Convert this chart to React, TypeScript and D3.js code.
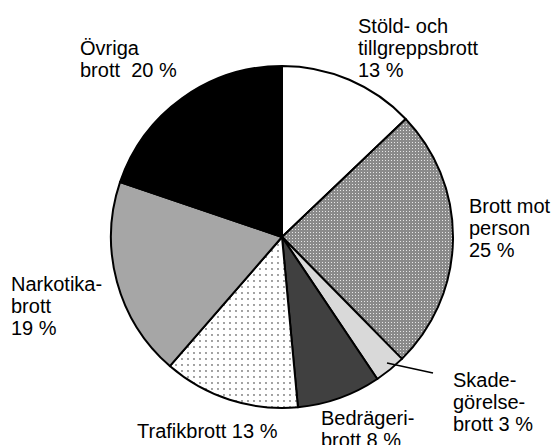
import React, { useEffect, useRef } from "react";
import * as d3 from "d3";

// crime categories, clockwise from 12 o'clock
const categories = [
  "Stöld- och tillgreppsbrott",
  "Brott mot person",
  "Skadegörelsebrott",
  "Bedrägeribrott",
  "Trafikbrott",
  "Narkotikabrott",
  "Övriga brott",
];
const shares = [13, 25, 3, 8, 13, 19, 20];
const labelLines = [
  ["Stöld- och", "tillgreppsbrott", "13 %"],
  ["Brott mot", "person", "25 %"],
  ["Skade-", "görelse-", "brott 3 %"],
  ["Bedrägeri-", "brott 8 %"],
  ["Trafikbrott 13 %"],
  ["Narkotika-", "brott", "19 %"],
  ["Övriga", "brott  20 %"],
];

// label anchor (left x, first baseline y)
const labelPos = [
  [358, 33],
  [469, 213],
  [453, 387],
  [321, 425],
  [137, 438],
  [11, 291],
  [80, 55],
];

const fills = ["#ffffff", "url(#fineGrid)", "#d9d9d9", "#404040", "url(#dots)", "#a6a6a6", "#000000"];

const W = 556;
const H = 445;
const cx = 282;
const cy = 237;
const R = 171;

const App = () => {
  const svgRef = useRef<SVGSVGElement>(null);

  useEffect(() => {
    const svg = d3.select(svgRef.current);
    svg.selectAll("*").remove();

    const defs = svg.append("defs");
    const grid = defs
      .append("pattern")
      .attr("id", "fineGrid")
      .attr("width", 3)
      .attr("height", 3)
      .attr("patternUnits", "userSpaceOnUse");
    grid.append("rect").attr("width", 3).attr("height", 3).attr("fill", "#8a8a8a");
    grid.append("rect").attr("x", 1).attr("y", 1).attr("width", 1).attr("height", 1).attr("fill", "#e6e6e6");

    const dots = defs
      .append("pattern")
      .attr("id", "dots")
      .attr("width", 6)
      .attr("height", 6)
      .attr("patternUnits", "userSpaceOnUse");
    dots.append("rect").attr("width", 6).attr("height", 6).attr("fill", "#ffffff");
    dots.append("circle").attr("cx", 2).attr("cy", 2).attr("r", 0.9).attr("fill", "#777");

    const pie = d3
      .pie<number>()
      .sort(null)
      .value((d) => d);
    const arc = d3.arc<d3.PieArcDatum<number>>().innerRadius(0).outerRadius(R);

    const g = svg.append("g").attr("transform", `translate(${cx},${cy})`);

    g.selectAll("path")
      .data(pie(shares))
      .enter()
      .append("path")
      .attr("d", arc)
      .attr("fill", (_, i) => fills[i])
      .attr("stroke", "#000")
      .attr("stroke-width", 2)
      .attr("stroke-linejoin", "round");

    // leader line for the small slice
    svg
      .append("line")
      .attr("x1", 387)
      .attr("y1", 363)
      .attr("x2", 433)
      .attr("y2", 373)
      .attr("stroke", "#000")
      .attr("stroke-width", 1.5);

    const labels = svg
      .append("g")
      .attr("font-family", "'Liberation Sans', Arial, sans-serif")
      .attr("font-size", 20)
      .attr("fill", "#000");

    labelLines.forEach((lines, i) => {
      const t = labels
        .append("text")
        .attr("x", labelPos[i][0])
        .attr("y", labelPos[i][1])
        .attr("xml:space", "preserve")
        .style("white-space", "pre");
      lines.forEach((line, j) => {
        t.append("tspan")
          .attr("x", labelPos[i][0])
          .attr("dy", j === 0 ? 0 : 22)
          .text(line);
      });
    });
  }, []);

  return (
    <div style={{ position: "absolute", left: 0, top: 0 }}>
      <svg ref={svgRef} width={W} height={H} aria-label={categories.join(", ")}></svg>
    </div>
  );
};

export default App;
